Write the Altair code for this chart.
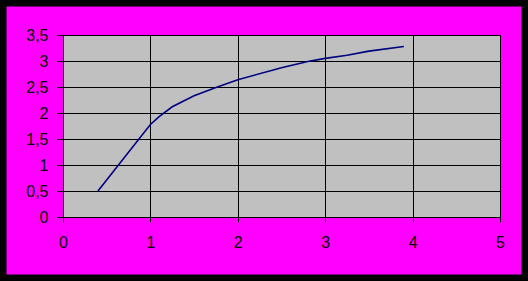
import altair as alt
import pandas as pd

xs = [0.4, 0.7, 1.0, 1.1, 1.25, 1.5, 1.75, 2.0, 2.5, 2.8, 3.0, 3.25, 3.5, 3.9]
ys = [0.5, 1.14, 1.78, 1.93, 2.12, 2.33, 2.49, 2.64, 2.87, 2.99, 3.05, 3.11, 3.19, 3.28]
x_ticks = [0, 1, 2, 3, 4, 5]
y_ticks = [0, 0.5, 1, 1.5, 2, 2.5, 3, 3.5]

df = pd.DataFrame({"x": xs, "y": ys})

FONT = "Liberation Sans"
lbl = "replace(toString(datum.value), '.', ',')"

line = alt.Chart(df).mark_line(color="#000080", strokeWidth=1.6).encode(
    x=alt.X("x:Q", scale=alt.Scale(domain=[0, 5], nice=False, zero=True),
            axis=alt.Axis(values=x_ticks, title=None, labelExpr=lbl,
                          tickSize=5, labelPadding=12, labelFlush=False)),
    y=alt.Y("y:Q", scale=alt.Scale(domain=[0, 3.5], nice=False, zero=True),
            axis=alt.Axis(values=y_ticks, title=None, labelExpr=lbl,
                          tickSize=6, labelPadding=9, labelFlush=False)),
)

frame = alt.Chart(alt.Data(values=[{"a": 1}])).mark_rect(
    fill="transparent", stroke="#000000", strokeWidth=13
).encode(
    x=alt.value(-63), x2=alt.value(465), y=alt.value(-35), y2=alt.value(246)
)

chart = alt.layer(line, frame).properties(
    width=437, height=182,
    background="#FF00FF",
    padding={"left": 63, "top": 35, "right": 28, "bottom": 64},
    autosize=alt.AutoSizeParams(type="none"),
).configure_view(
    fill="#C0C0C0", stroke="#808080", strokeWidth=1
).configure_axis(
    grid=True, gridColor="#000000", gridWidth=1, gridOpacity=1,
    domainColor="#000000", domainWidth=1,
    tickColor="#000000", tickWidth=1,
    labelColor="#000000", labelFont=FONT, labelFontSize=16,
)

chart.save("out.html", embed_options={"renderer": "svg", "actions": False})
